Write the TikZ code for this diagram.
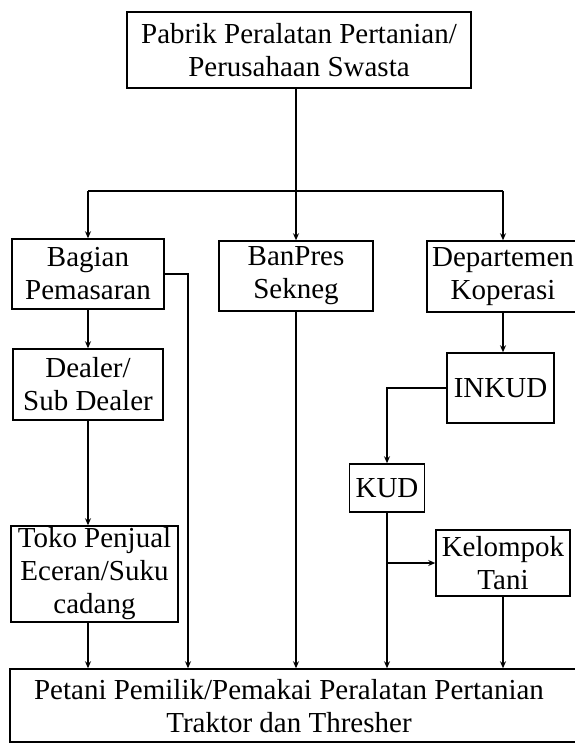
\documentclass[tikz,border=0pt]{standalone}
\usepackage{fontspec}
\setmainfont{Liberation Serif}
\usetikzlibrary{arrows.meta}
\begin{document}
\begin{tikzpicture}[x=1pt,y=-1pt,
  txt/.style={inner sep=0pt, align=center, font=\fontsize{29}{33}\selectfont},
  box/.style={txt, draw, line width=1.5pt},
  conn/.style={line width=1.2pt},
  arr/.style={conn, -{Stealth[length=7pt,width=6pt]}}]
\useasboundingbox (0,0) rectangle (574,743);
% boxes
\node[box, minimum width=344pt, minimum height=76pt] (pabrik) at (299,50) {Pabrik Peralatan Pertanian/\\Perusahaan Swasta};
\node[box, minimum width=152pt, minimum height=70pt] (bagian) at (88,274) {Bagian\\Pemasaran};
\node[box, minimum width=154pt, minimum height=70pt] (banpres) at (296,276) {BanPres\\Sekneg};
\node[box, minimum width=152pt, minimum height=71pt] (dept) at (503,276.5) {Departemen\\Koperasi};
\node[box, minimum width=150pt, minimum height=71pt] (dealer) at (88,384.5) {Dealer/\\Sub Dealer};
\node[box, minimum width=107pt, minimum height=70pt] (inkud) at (500.5,388) {INKUD};
\node[box, minimum width=75pt, minimum height=48pt] (kud) at (387,488) {KUD};
\node[box, minimum width=134pt, minimum height=66pt] (kel) at (503,563) {Kelompok\\Tani};
\node[box, minimum width=167pt, minimum height=96pt] (toko) at (94.5,574) {Toko Penjual\\Eceran/Suku\\cadang};
\node[draw, line width=1.5pt, minimum width=590pt, minimum height=73pt] (petani) at (305,705.5) {};
\node[txt] (petanitxt) at (289,706) {Petani Pemilik/Pemakai Peralatan Pertanian\\Traktor dan Thresher};
% connectors
\coordinate (jtop) at (296,191);
\draw[conn] (pabrik.south -| jtop) -- (jtop);
\draw[conn] (bagian.north |- jtop) -- (dept.north |- jtop);
\draw[arr] (bagian.north |- jtop) -- (bagian.north);
\draw[arr] (jtop) -- (banpres.north);
\draw[arr] (dept.north |- jtop) -- (dept.north);
\draw[arr] (bagian.south) -- (dealer.north);
\draw[arr] (dealer.south) -- (dealer.south |- toko.north);
\draw[arr] (dealer.south |- toko.south) -- (dealer.south |- petani.north);
\coordinate (bright) at (188,274);
\draw[arr] (bagian.east) -- (bright) -- (bright |- petani.north);
\draw[arr] (banpres.south) -- (banpres.south |- petani.north);
\draw[arr] (dept.south) -- (dept.south |- inkud.north);
\draw[arr] (inkud.west) -| (kud.north);
\draw[arr] (kud.south) -- (kud.south |- petani.north);
\draw[arr] (kud.south |- kel.west) -- (kel.west);
\draw[arr] (kel.south) -- (kel.south |- petani.north);
\end{tikzpicture}
\end{document}
